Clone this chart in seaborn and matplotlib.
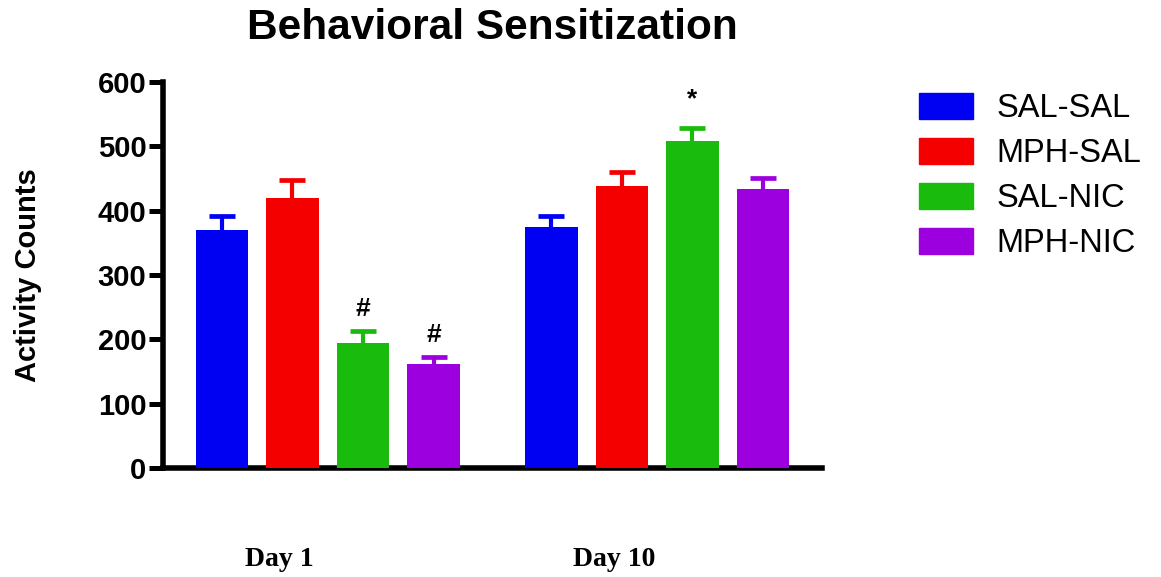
import matplotlib
matplotlib.use("Agg")
import matplotlib.pyplot as plt
import seaborn as sns
import pandas as pd

# Activity counts (mean and SEM) per treatment group on each test day
days = ["Day 1", "Day 10"]
groups = ["SAL-SAL", "MPH-SAL", "SAL-NIC", "MPH-NIC"]
day1_means = [370, 419, 194, 161]
day10_means = [375, 439, 509, 434]
day1_sem = [22, 28, 19, 11]
day10_sem = [17, 21, 20, 17]
day1_marks = ["", "", "#", "#"]
day10_marks = ["", "", "*", ""]
colors = ["#0000F2", "#F40000", "#19BC0C", "#9C00DE"]
yticks = [0, 100, 200, 300, 400, 500, 600]

df = pd.DataFrame({
    "day": [days[0]] * 4 + [days[1]] * 4,
    "group": groups * 2,
    "count": day1_means + day10_means,
})

sns.set_style("ticks")
plt.rcParams["font.family"] = ["Liberation Sans", "DejaVu Sans"]
plt.rcParams["text.color"] = "black"
plt.rcParams["ytick.color"] = "black"
plt.rcParams["axes.labelcolor"] = "black"

fig = plt.figure(figsize=(11.61, 5.77), dpi=100)
ax = fig.add_axes([0.1404, 0.1889, 0.5676, 0.669])

sns.barplot(data=df, x="day", y="count", hue="group", hue_order=groups,
            palette=colors, width=0.856, gap=0.25, errorbar=None,
            saturation=1, linewidth=0, ax=ax, legend=False, zorder=3)

# upper-only SEM whiskers, coloured like their bars
bar_groups = list(ax.containers)
sems = {0: day1_sem, 1: day10_sem}
marks = {0: day1_marks, 1: day10_marks}
for gi, cont in enumerate(bar_groups):
    for di, bar in enumerate(cont.patches):
        xc = bar.get_x() + bar.get_width() / 2
        h = bar.get_height()
        err = sems[di][gi]
        _, caps, _ = ax.errorbar(xc, h, yerr=[[0], [err]], color=colors[gi],
                                 elinewidth=3.0, capsize=9.5, capthick=3.4,
                                 zorder=2)
        caps[0].set_visible(False)
        m = marks[di][gi]
        if m:
            off = 10 if m == "#" else 16
            ax.annotate(m, xy=(xc, h + err), xytext=(0, off),
                        textcoords="offset pixels", ha="center", va="bottom",
                        fontsize=19, fontweight="bold", color="black")

ax.set_ylim(0, 600)
ax.set_xlim(-0.5, 1.5)
ax.set_yticks(yticks)
ax.set_yticklabels([str(t) for t in yticks], fontsize=21, fontweight="bold")
ax.tick_params(axis="y", length=10, width=3.6, pad=2, color="black",
               labelcolor="black")
ax.tick_params(axis="x", length=0, labelbottom=False)
ax.set_xlabel("")
ax.set_ylabel("Activity Counts", fontsize=21, fontweight="bold",
              color="black")
ax.yaxis.set_label_coords(-0.183, 0.5)
for side in ["left", "bottom"]:
    ax.spines[side].set_linewidth(4)
    ax.spines[side].set_color("black")
sns.despine(ax=ax)

handles = [plt.Rectangle((0, 0), 1, 1, color=c) for c in colors]
fig.legend(handles, groups, loc="upper left",
           bbox_to_anchor=(919 / 1161, 1 - 93 / 577),
           frameon=False, fontsize=23.5, borderpad=0, borderaxespad=0,
           handlelength=1.65, handleheight=0.85, handletextpad=0.72,
           labelspacing=0.42)

fig.text(492 / 1161, 1 - 39 / 577, "Behavioral Sensitization",
         ha="center", va="baseline", fontsize=30.5, fontweight="bold",
         color="black")

day_x = [279 / 1161, 614 / 1161]
for d, xf in zip(days, day_x):
    fig.text(xf, 1 - 566 / 577, d, ha="center", va="baseline",
             fontsize=20, fontweight="bold", family="Liberation Serif",
             color="black")

fig.savefig("out.png", dpi=100)
